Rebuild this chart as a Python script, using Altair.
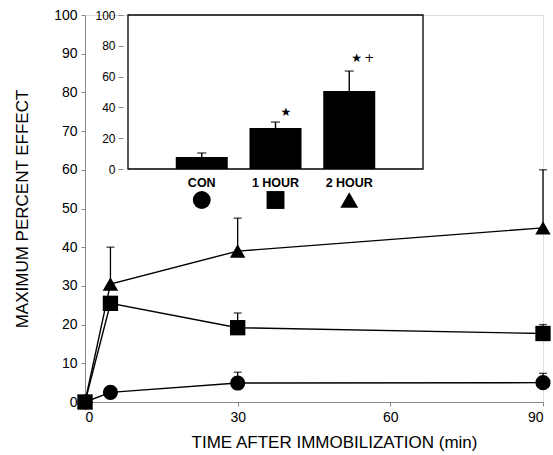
import altair as alt
import pandas as pd

FONT = "Liberation Sans"

# ---- main time-course data ----
times = [0, 5, 30, 90]
groups = ["CON", "1 HOUR", "2 HOUR"]
shapes = ["circle", "square", "triangle-up"]
con_mean = [0, 2.5, 4.9, 5.0]
con_top = [0, 2.5, 7.7, 7.4]
h1_mean = [0, 25.5, 19.2, 17.7]
h1_top = [0, 25.5, 23.0, 20.0]
h2_mean = [0, 30.5, 39.0, 45.0]
h2_top = [0, 40.0, 47.5, 60.0]

# ---- inset bar data ----
bar_pos = [1, 2, 3]
bar_mean = [7.8, 26.6, 50.6]
bar_top = [10.4, 30.5, 63.6]
sig_text = ["★", "★", "+"]
sig_pos = [2.14, 3.10, 3.27]
sig_val = [37, 72, 72]

rows = []
for g, m, t in [("CON", con_mean, con_top), ("1 HOUR", h1_mean, h1_top), ("2 HOUR", h2_mean, h2_top)]:
    for x, mv, tv in zip(times, m, t):
        rows.append({"series": g, "time": x, "mean": mv, "top": tv})
df_main = pd.DataFrame(rows)

df_bar = pd.DataFrame({"group": groups, "pos": bar_pos, "mean": bar_mean, "top": bar_top})
df_sig = pd.DataFrame({"sym": sig_text, "pos": sig_pos, "val": sig_val})
df_box = pd.DataFrame({"x0": [0], "x1": [4], "y0": [0], "y1": [100]})

shape_scale = alt.Scale(domain=groups, range=shapes)

x_main = alt.X("time:Q", scale=alt.Scale(domain=[0, 90], nice=False),
               axis=alt.Axis(values=[0, 30, 60, 90], title="TIME AFTER IMMOBILIZATION (min)",
                             grid=False, tickSize=4, labelPadding=4, labelFontSize=14,
                             titleFontSize=17, titleFontWeight="normal", titlePadding=10,
                             titleX=249))


def y_main(field):
    return alt.Y(field, scale=alt.Scale(domain=[0, 100], nice=False),
                 axis=alt.Axis(values=list(range(0, 101, 10)), title="MAXIMUM PERCENT EFFECT",
                               grid=False, tickSize=4, labelPadding=4, labelFontSize=14,
                               titleFontSize=17, titleFontWeight="normal", titlePadding=22))


base = alt.Chart(df_main).encode(x=x_main)
lines = base.mark_line(color="black", strokeWidth=1.4).encode(y=y_main("mean:Q"), detail="series:N")
errs = base.transform_filter("datum.top > datum.mean").mark_rule(color="black", strokeWidth=1.3).encode(
    y=y_main("mean:Q"), y2="top:Q")
caps = base.transform_filter("datum.top > datum.mean").mark_tick(
    color="black", orient="horizontal", size=8, thickness=1.4).encode(y=y_main("top:Q"))
pts = base.mark_point(filled=True, opacity=1, color="black").encode(
    y=y_main("mean:Q"),
    shape=alt.Shape("series:N", scale=shape_scale, legend=None),
    size=alt.Size("series:N", scale=alt.Scale(domain=groups, range=[230, 240, 330]), legend=None))
main = alt.layer(lines, errs, caps, pts)


def xi(field):
    return alt.X(field, scale=alt.Scale(domain=[0, 4], range=[38, 343], nice=False), axis=None)


def yi(field):
    return alt.Y(field, scale=alt.Scale(domain=[0, 100], range=[154, 0], nice=False),
                 axis=alt.Axis(orient="left", offset=-38, values=[0, 20, 40, 60, 80, 100],
                               domain=False, grid=False, tickSize=5, labelPadding=3,
                               labelFontSize=12, title=None))


box = alt.Chart(df_box).mark_rect(fill="white", stroke="black", strokeWidth=1.3).encode(
    x=xi("x0:Q"), x2="x1:Q", y=yi("y0:Q"), y2="y1:Q")
bars = alt.Chart(df_bar).mark_bar(size=52, color="black").encode(x=xi("pos:Q"), y=yi("mean:Q"))
berr = alt.Chart(df_bar).mark_rule(color="black", strokeWidth=1.4).encode(
    x=xi("pos:Q"), y=yi("mean:Q"), y2="top:Q")
bcap = alt.Chart(df_bar).mark_tick(color="black", orient="horizontal", size=9, thickness=1.4).encode(
    x=xi("pos:Q"), y=yi("top:Q"))
sig = alt.Chart(df_sig).mark_text(fontSize=12, color="black", font="DejaVu Sans").encode(
    x=xi("pos:Q"), y=yi("val:Q"), text="sym:N")
labels = alt.Chart(df_bar).mark_text(fontSize=12.5, fontWeight="bold", font=FONT, color="black").encode(
    x=xi("pos:Q"), y=alt.value(168), text="group:N")
syms = alt.Chart(df_bar).mark_point(filled=True, opacity=1, color="black").encode(
    x=xi("pos:Q"), y=alt.value(185),
    shape=alt.Shape("group:N", scale=shape_scale, legend=None), size=alt.value(320))
inset = alt.layer(box, bars, berr, bcap, sig, labels, syms)

chart = alt.layer(main, inset).resolve_scale(x="independent", y="independent").properties(
    width=458, height=387,
    padding={"left": 85, "top": 15, "right": 10, "bottom": 53},
    autosize=alt.AutoSizeParams(type="none"),
).configure_view(stroke=None).configure_axis(
    labelFont=FONT, titleFont=FONT, labelColor="black", titleColor="black",
    domainColor="black", tickColor="black", domainWidth=1.3, tickWidth=1.3
).configure(background="white")

chart.save("out.html", embed_options={"renderer": "svg", "actions": False})
